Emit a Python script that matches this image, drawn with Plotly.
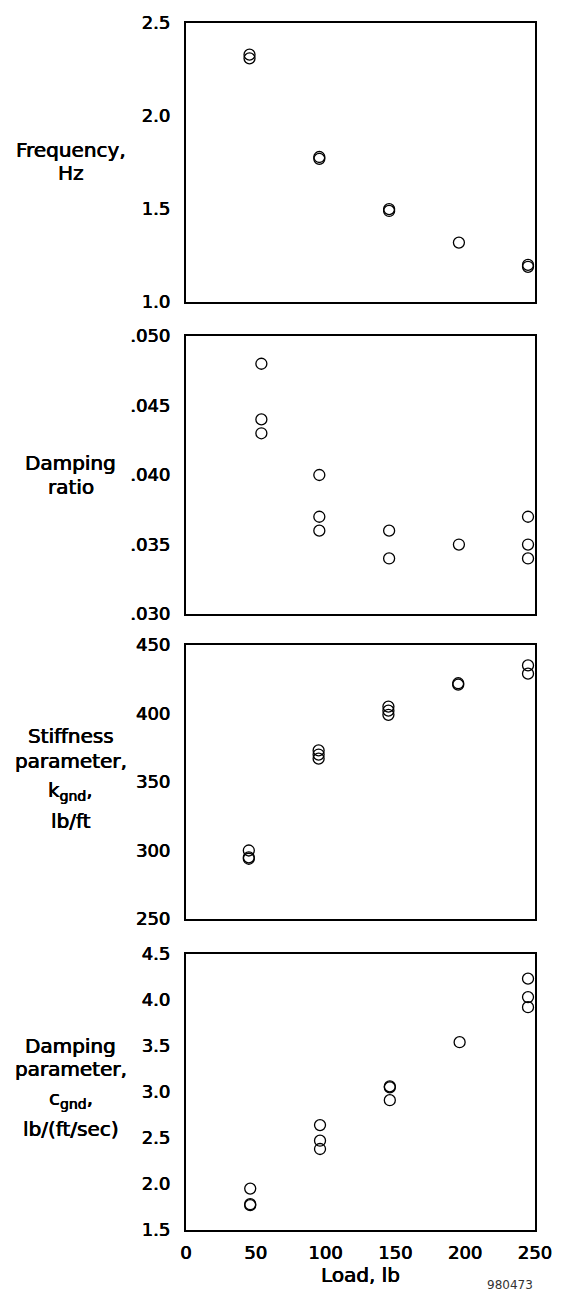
import plotly.graph_objects as go

# ---- data ----
load_freq = [45.5, 45.5, 95.5, 95.5, 145.5, 145.5, 195.5, 245, 245]
frequency = [2.33, 2.31, 1.78, 1.77, 1.50, 1.49, 1.32, 1.20, 1.19]

load_ratio = [54, 54, 54, 95.5, 95.5, 95.5, 145.5, 145.5, 195.5, 245, 245, 245]
damping_ratio = [0.048, 0.044, 0.043, 0.040, 0.037, 0.036, 0.036, 0.034, 0.035, 0.037, 0.035, 0.034]

load_stiff = [45, 45, 45, 95, 95, 95, 145, 145, 145, 195, 195, 245, 245]
stiffness = [300, 295, 294, 373, 370, 367, 405, 402, 399, 422, 421, 435, 429]

load_damp = [46, 46, 46, 96, 96, 96, 146, 146, 146, 196, 245, 245, 245]
damping_param = [1.95, 1.78, 1.77, 2.64, 2.47, 2.38, 3.06, 3.05, 2.91, 3.54, 4.23, 4.03, 3.92]

x_ticks = [0, 50, 100, 150, 200, 250]
x_ticktext = ["0", "50", "100", "150", "200", "250"]

freq_ticks = [1.0, 1.5, 2.0, 2.5]
freq_ticktext = ["1.0", "1.5", "2.0", "2.5"]
ratio_ticks = [0.030, 0.035, 0.040, 0.045, 0.050]
ratio_ticktext = [".030", ".035", ".040", ".045", ".050"]
stiff_ticks = [250, 300, 350, 400, 450]
stiff_ticktext = ["250", "300", "350", "400", "450"]
damp_ticks = [1.5, 2.0, 2.5, 3.0, 3.5, 4.0, 4.5]
damp_ticktext = ["1.5", "2.0", "2.5", "3.0", "3.5", "4.0", "4.5"]

# y-axis title lines per panel
titles = [
    ["Frequency,", "Hz"],
    ["Damping", "ratio"],
    ["Stiffness", "parameter,", "k<sub>gnd</sub>,", "lb/ft"],
    ["Damping", "parameter,", "c<sub>gnd</sub>,", "lb/(ft/sec)"],
]

# ---- layout geometry ----
W, H = 564, 1293
ML, MR, MT, MB = 186, 21, 15, 63
PH = H - MT - MB
PW = W - ML - MR

def fy(ypix):
    return (H - MB - ypix) / PH

def fx(xpix):
    return (xpix - ML) / PW

domains = [
    [fy(296), 1.0],
    [fy(610), fy(330)],
    [fy(917), fy(641)],
    [0.0, fy(952)],
]
title_y = [
    [143, 166],
    [458, 482],
    [733, 758, 788, 818],
    [1045, 1068, 1098, 1128],
]

FONT = "DejaVu Sans, Liberation Sans, Arial, sans-serif"
THICK = "0.35px 0 0 black, -0.35px 0 0 black"
marker = dict(symbol="circle-open", size=11, color="black", line=dict(width=1.3, color="black"))

fig = go.Figure()
series = [
    (load_freq, frequency),
    (load_ratio, damping_ratio),
    (load_stiff, stiffness),
    (load_damp, damping_param),
]
for i, (xs, ys) in enumerate(series):
    ax = "" if i == 0 else str(i + 1)
    fig.add_trace(go.Scatter(x=xs, y=ys, mode="markers", marker=marker,
                             xaxis="x" + ax, yaxis="y" + ax, showlegend=False,
                             hoverinfo="x+y"))

yranges = [[1.0, 2.5], [0.030, 0.050], [250, 450], [1.5, 4.5]]
yticks = [(freq_ticks, freq_ticktext), (ratio_ticks, ratio_ticktext),
          (stiff_ticks, stiff_ticktext), (damp_ticks, damp_ticktext)]

axis_common = dict(showline=True, linecolor="black", linewidth=2, mirror=True,
                   showgrid=False, zeroline=False, ticks="",
                   tickfont=dict(family=FONT, size=18, color="black", shadow=THICK))

layout = dict(width=W, height=H, margin=dict(l=ML, r=MR, t=MT, b=MB),
              paper_bgcolor="white", plot_bgcolor="white", showlegend=False)

for i in range(4):
    ax = "" if i == 0 else str(i + 1)
    xa = dict(axis_common, domain=[0, 1], range=[0, 250], anchor="y" + ax,
              tickvals=x_ticks, ticktext=x_ticktext, showticklabels=(i == 3),
              ticklabelstandoff=5, ticklabeloverflow="allow")
    if i == 3:
        xa["title"] = dict(text="Load, lb",
                           font=dict(family=FONT, size=20, color="black", shadow=THICK),
                           standoff=2)
    ya = dict(axis_common, domain=domains[i], range=yranges[i], anchor="x" + ax,
              tickvals=yticks[i][0], ticktext=yticks[i][1], ticklabelstandoff=10)
    layout["xaxis" + ax] = xa
    layout["yaxis" + ax] = ya

annotations = []
for i in range(4):
    for line, yp in zip(titles[i], title_y[i]):
        annotations.append(dict(text=line, xref="paper", yref="paper",
                                x=fx(68), y=fy(yp),
                                xanchor="center", yanchor="middle", showarrow=False,
                                font=dict(family=FONT, size=20, color="black", shadow=THICK)))
annotations.append(dict(text="980473", xref="paper", yref="paper",
                        x=fx(543), y=fy(1285), xanchor="right", yanchor="middle",
                        showarrow=False, font=dict(family=FONT, size=12, color="#333333")))
layout["annotations"] = annotations

fig.update_layout(**layout)
fig.write_html("out.html", config={"displayModeBar": False},
               post_script="document.body.style.margin='0px';document.body.style.overflow='hidden';")
